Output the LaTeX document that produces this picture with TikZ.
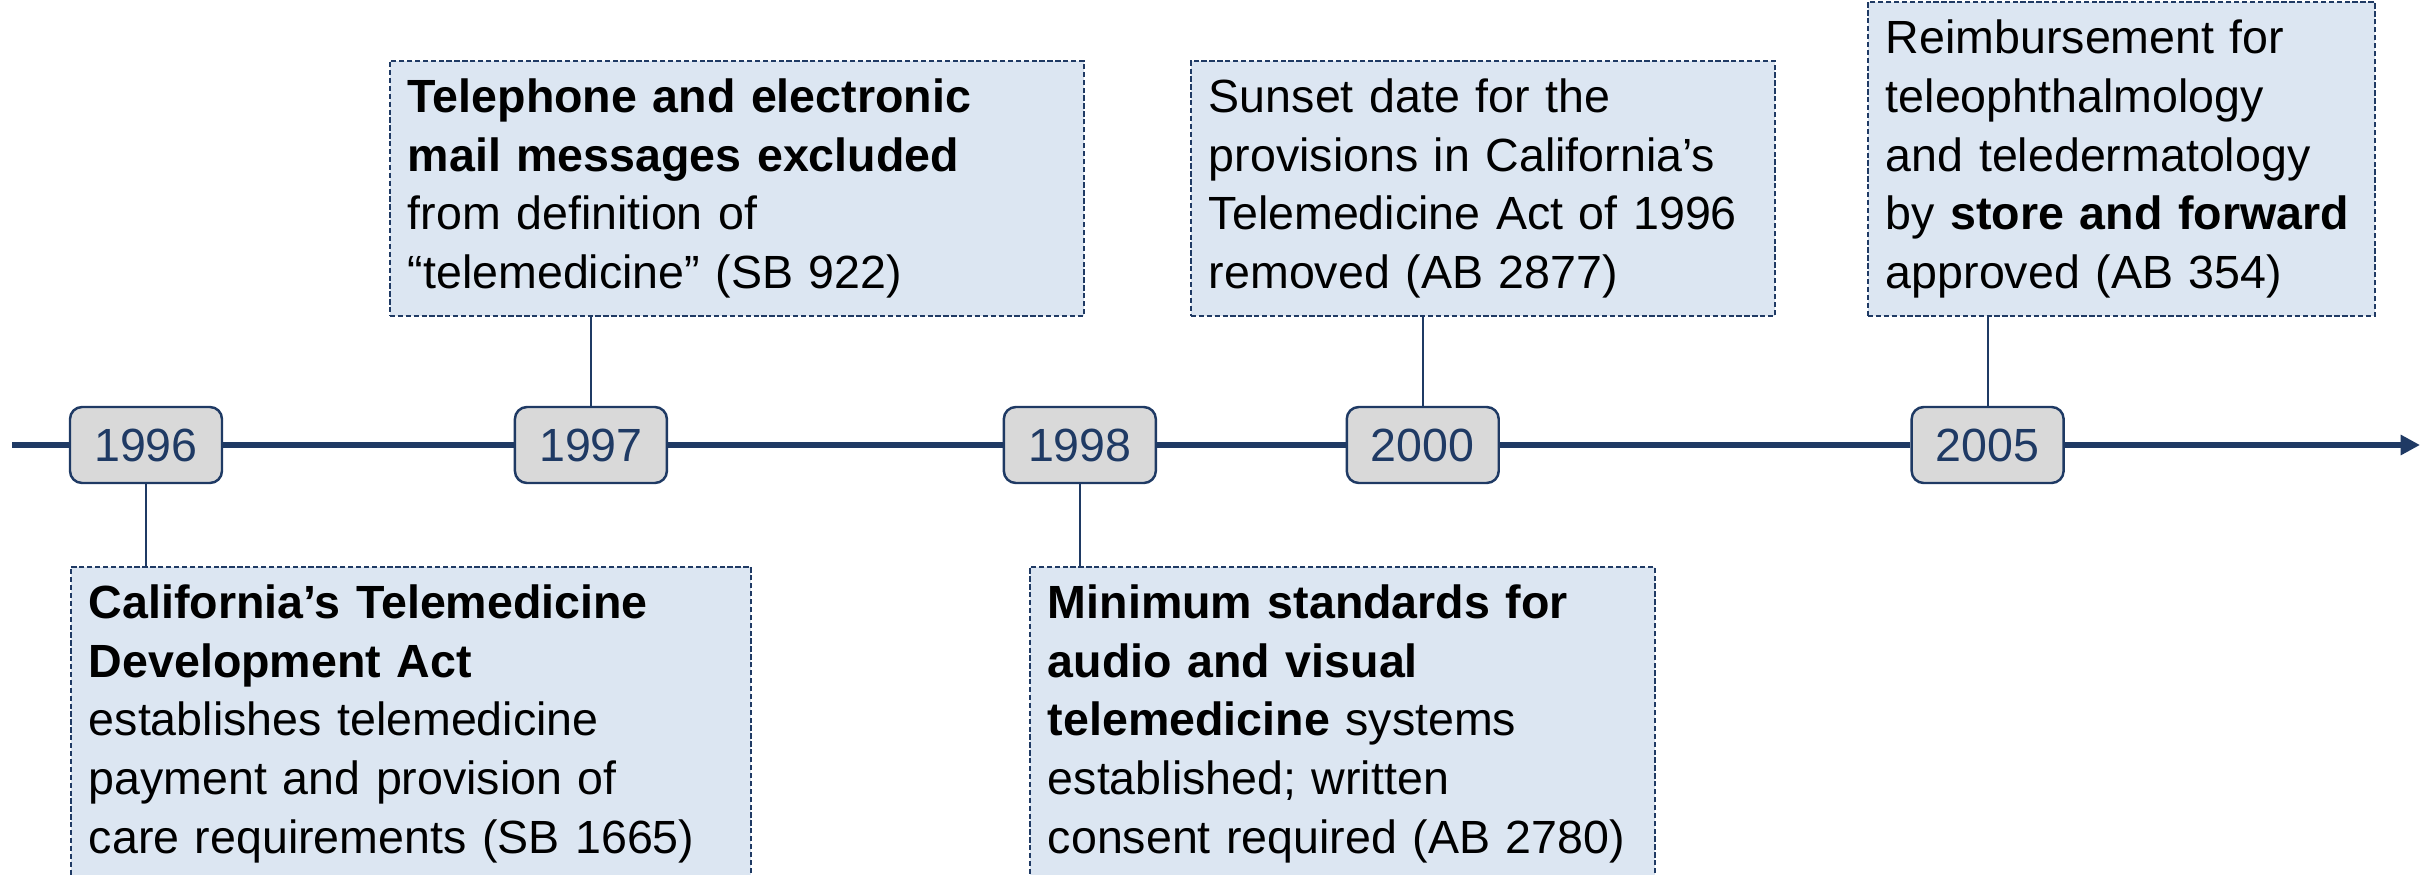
\documentclass[tikz,border=0pt]{standalone}
\usepackage{fontspec}
\setmainfont{Liberation Sans}
\usetikzlibrary{arrows.meta}

\definecolor{navy}{HTML}{1F3A64}
\definecolor{boxblue}{HTML}{DCE6F2}
\definecolor{yeargray}{HTML}{D9D9D9}

\tikzset{
	year/.style={draw=navy, line width=1.4pt, fill=yeargray, rounded corners=0.24cm,
		minimum width=3.04cm, minimum height=1.52cm, inner sep=0pt,
		text=navy, font=\fontsize{26.5}{30}\selectfont},
	event/.style={draw=navy, dash pattern=on 3pt off 1.5pt, line width=1pt, fill=boxblue,
		text width=#1, align=left, inner xsep=0.36cm, inner ysep=0.36cm,
		font=\fontsize{26.5}{33.4}\selectfont},
	stem/.style={draw=navy, line width=1.1pt},
	timeline/.style={draw=navy, line width=3.6pt}
}

\begin{document}
\begin{tikzpicture}[x=0.02cm, y=-0.02cm, node distance=1cm]
			\useasboundingbox (0,0) rectangle (2433,875);
			\clip (0,0) rectangle (2433,875);

			\node(y96) [year] at (146,445) {1996};
			\node(y97) [year, right of=y96, node distance=8.9cm] {1997};
			\node(y98) [year, right of=y97, node distance=9.78cm] {1998};
			\node(y00) [year, right of=y98, node distance=6.86cm] {2000};
			\node(y05) [year, right of=y00, node distance=11.3cm] {2005};

			\coordinate(tlstart) at (12,445);
			\coordinate(tlend) at (2420,445);

			\node(e96) [event=12.88cm, anchor=north west] at (70,566)
				{\textbf{California’s Telemedicine}\\\textbf{Development Act}\\establishes telemedicine\\payment and provision of\\care requirements (SB 1665)};
			\node(e97) [event=13.16cm, anchor=south west, minimum height=5.04cm] at (389,317)
				{\textbf{Telephone and electronic}\\\textbf{mail messages excluded}\\from definition of\\“telemedicine” (SB 922)};
			\node(e98) [event=11.78cm, anchor=north west] at (1029,566)
				{\textbf{Minimum standards for}\\\textbf{audio and visual}\\\textbf{telemedicine} systems\\established; written\\consent required (AB 2780)};
			\node(e00) [event=10.96cm, anchor=south west, minimum height=5.04cm] at (1190,317)
				{Sunset date for the\\provisions in California’s\\Telemedicine Act of 1996\\removed (AB 2877)};
			\node(e05) [event=9.42cm, anchor=south west, minimum height=6.24cm] at (1867,317)
				{Reimbursement for\\teleophthalmology\\and teledermatology\\by \textbf{store and forward}\\approved (AB 354)};

			\draw[timeline] (tlstart) -- (y96);
			\draw[timeline] (y96) -- (y97);
			\draw[timeline] (y97) -- (y98);
			\draw[timeline] (y98) -- (y00);
			\draw[timeline] (y00) -- (y05);
			\draw[timeline, -{Triangle[length=11pt, width=11pt]}] (y05) -- (tlend);

			\draw[stem] (y96.south) -- (y96.south |- e96.north);
			\draw[stem] (y97.north) -- (y97.north |- e97.south);
			\draw[stem] (y98.south) -- (y98.south |- e98.north);
			\draw[stem] (y00.north) -- (y00.north |- e00.south);
			\draw[stem] (y05.north) -- (y05.north |- e05.south);
		\end{tikzpicture}
\end{document}
